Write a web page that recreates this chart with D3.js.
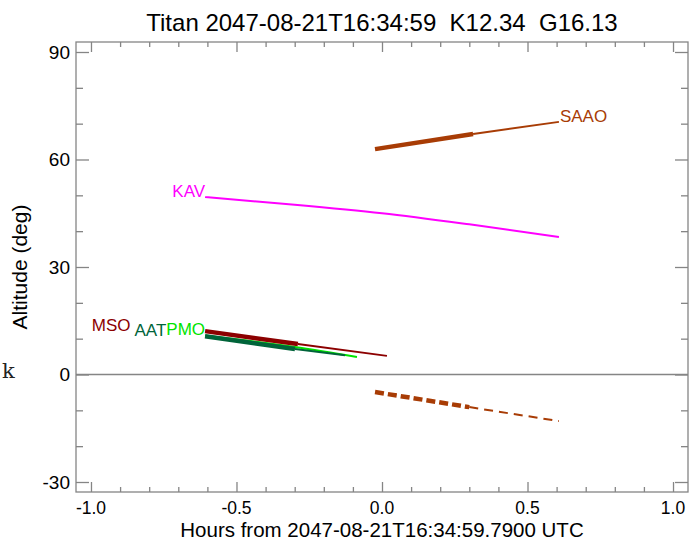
<!DOCTYPE html>
<html>
<head>
<meta charset="utf-8">
<script src="https://cdn.jsdelivr.net/npm/d3@7"></script>
<style>
  body { margin: 0; background: #fff; }
  svg { display: block; font-family: "Liberation Sans", Arial, sans-serif; }
  text { white-space: pre; }
</style>
</head>
<body>
<svg id="chart" width="700" height="541"></svg>
<script>
'use strict';

// site tracks: hours from reference time vs altitude (deg)
var sites = ["SAAO", "KAV", "MSO", "AAT", "PMO"];
var siteColors = ["#a83c05", "#ff00ff", "#8c0000", "#00643a", "#00e400"];
var siteHours = [
  [-0.024, 0.313, 0.608],
  [-0.608, -0.3, 0.0, 0.3, 0.608],
  [-0.608, -0.289, 0.017],
  [-0.608, -0.299, -0.127],
  [-0.608, -0.3, -0.086]
];
var siteAlt = [
  [62.9, 67.1, 70.5],
  [49.5, 47.4, 45.0, 41.9, 38.4],
  [12.1, 8.5, 5.2],
  [10.7, 7.1, 5.4],
  [10.9, 7.7, 4.9]
];
// last hour of the thick (dark time) part, null = thin only
var thickUntil = [0.313, null, -0.289, -0.299, null];
// label on which end of the track
var labelSide = ["end", "start", "start", "start", "start"];

// dashed track below horizon
var belowHours = [-0.024, 0.3, 0.608];
var belowAlt = [-4.9, -9.1, -13.0];
var belowThickUntil = 0.3;

var xMajor = [-1.0, -0.5, 0.0, 0.5, 1.0];
var xTickLabels = ["-1.0", "-0.5", "0.0", "0.5", "1.0"];
var yMajor = [-30, 0, 30, 60, 90];
var yTickLabels = ["-30", "0", "30", "60", "90"];

var titleText = "Titan 2047-08-21T16:34:59  K12.34  G16.13";
var xTitle = "Hours from 2047-08-21T16:34:59.7900 UTC";
var yTitle = "Altitude (deg)";

var svg = d3.select("#chart");
var pLeft = 76, pRight = 688, pTop = 42, pBottom = 492;
var axisColor = "#858585";

var x = d3.scaleLinear().domain([-1.0515, 1.0515]).range([pLeft, pRight]);
var y = d3.scaleLinear().domain([-32.79, 92.79]).range([pBottom, pTop]);

var xMinor = d3.range(-10, 11).map(function(d) { return d / 10; })
  .filter(function(d) { return xMajor.indexOf(d) < 0; });
var yMinor = d3.range(-30, 91, 10).filter(function(d) { return yMajor.indexOf(d) < 0; });

// zero line
svg.append("line")
  .attr("x1", pLeft).attr("x2", pRight)
  .attr("y1", y(0)).attr("y2", y(0))
  .attr("stroke", axisColor).attr("stroke-width", 1.3);

// axes, no domain path, ticks drawn inward
function inward(axis, len) {
  return axis.tickSizeInner(-len).tickSizeOuter(0).tickFormat("");
}
var gAx = svg.append("g");
gAx.append("g").attr("transform", "translate(0," + pBottom + ")")
  .call(inward(d3.axisBottom(x).tickValues(xMajor), 10));
gAx.append("g").attr("transform", "translate(0," + pBottom + ")")
  .call(inward(d3.axisBottom(x).tickValues(xMinor), 5));
gAx.append("g").attr("transform", "translate(0," + pTop + ")")
  .call(inward(d3.axisTop(x).tickValues(xMajor), 10));
gAx.append("g").attr("transform", "translate(0," + pTop + ")")
  .call(inward(d3.axisTop(x).tickValues(xMinor), 5));
gAx.append("g").attr("transform", "translate(" + pLeft + ",0)")
  .call(inward(d3.axisLeft(y).tickValues(yMajor), 13));
gAx.append("g").attr("transform", "translate(" + pLeft + ",0)")
  .call(inward(d3.axisLeft(y).tickValues(yMinor), 7));
gAx.append("g").attr("transform", "translate(" + pRight + ",0)")
  .call(inward(d3.axisRight(y).tickValues(yMajor), 13));
gAx.append("g").attr("transform", "translate(" + pRight + ",0)")
  .call(inward(d3.axisRight(y).tickValues(yMinor), 7));
gAx.selectAll(".domain").remove();
gAx.selectAll("line").attr("stroke", axisColor).attr("stroke-width", 1.3);

// frame
svg.append("rect")
  .attr("x", pLeft).attr("y", pTop)
  .attr("width", pRight - pLeft).attr("height", pBottom - pTop)
  .attr("fill", "none").attr("stroke", axisColor).attr("stroke-width", 1.3);

// tick labels
svg.append("g").selectAll("text")
  .data(xMajor).enter().append("text")
  .attr("x", function(d) { return x(d); })
  .attr("y", pBottom + 22)
  .attr("text-anchor", "middle")
  .attr("font-size", "17.5px")
  .text(function(d, i) { return xTickLabels[i]; });
svg.append("g").selectAll("text")
  .data(yMajor).enter().append("text")
  .attr("x", pLeft - 6)
  .attr("y", function(d) { return y(d); })
  .attr("dy", "0.36em")
  .attr("text-anchor", "end")
  .attr("font-size", "19px")
  .text(function(d, i) { return yTickLabels[i]; });

// titles
svg.append("text")
  .attr("x", (pLeft + pRight) / 2).attr("y", 31)
  .attr("text-anchor", "middle").attr("font-size", "24px")
  .text(titleText);
svg.append("text")
  .attr("x", (pLeft + pRight) / 2).attr("y", 536.5)
  .attr("text-anchor", "middle").attr("font-size", "20.5px")
  .text(xTitle);
svg.append("text")
  .attr("transform", "translate(27," + y(30) + ") rotate(-90)")
  .attr("text-anchor", "middle").attr("font-size", "21px")
  .text(yTitle);

svg.append("text")
  .attr("x", 2).attr("y", 378)
  .attr("font-family", "'DejaVu Serif', 'Liberation Serif', serif")
  .attr("font-size", "21px").attr("fill", "#222")
  .text("k");

// tracks
var line = d3.line()
  .curve(d3.curveMonotoneX)
  .x(function(d) { return x(d[0]); })
  .y(function(d) { return y(d[1]); });

function splitTrack(hours, alt, until) {
  var pts = hours.map(function(h, i) { return [h, alt[i]]; });
  if (until === null) return { thick: [], thin: pts };
  var k = hours.indexOf(until);
  return { thick: pts.slice(0, k + 1), thin: pts.slice(k) };
}

var drawOrder = [4, 3, 2, 1, 0];
var tracks = svg.append("g");
drawOrder.forEach(function(i) {
  var parts = splitTrack(siteHours[i], siteAlt[i], thickUntil[i]);
  tracks.append("path").attr("d", line(parts.thin))
    .attr("fill", "none").attr("stroke", siteColors[i]).attr("stroke-width", 2);
  if (parts.thick.length) {
    tracks.append("path").attr("d", line(parts.thick))
      .attr("fill", "none").attr("stroke", siteColors[i]).attr("stroke-width", 4.5);
  }
});

var below = splitTrack(belowHours, belowAlt, belowThickUntil);
tracks.append("path").attr("d", line(below.thick))
  .attr("fill", "none").attr("stroke", siteColors[0]).attr("stroke-width", 4.5)
  .attr("stroke-dasharray", "9,4");
tracks.append("path").attr("d", line(below.thin))
  .attr("fill", "none").attr("stroke", siteColors[0]).attr("stroke-width", 2)
  .attr("stroke-dasharray", "9,6");

// labels; left-side labels shifted left to avoid overlapping
var placed = [];
var labelOrder = [4, 3, 2, 1, 0];
labelOrder.forEach(function(i) {
  var n = siteHours[i].length;
  var atEnd = labelSide[i] === "end";
  var h = atEnd ? siteHours[i][n - 1] : siteHours[i][0];
  var a = atEnd ? siteAlt[i][n - 1] : siteAlt[i][0];
  var t = svg.append("text")
    .attr("font-size", "17px")
    .attr("fill", siteColors[i])
    .attr("y", y(a))
    .text(sites[i]);
  var w = t.node().getComputedTextLength();
  var xr = atEnd ? x(h) + 1 + w : x(h);
  placed.forEach(function(p) {
    if (Math.abs(p.y - y(a)) < 14 && xr > p.x0 && xr - w < p.x1) {
      xr = p.x0 - (Math.abs(p.y - y(a)) < 1 ? 0 : 4);
    }
  });
  t.attr("x", xr - w);
  placed.push({ x0: xr - w, x1: xr, y: y(a) });
});
</script>
</body>
</html>
